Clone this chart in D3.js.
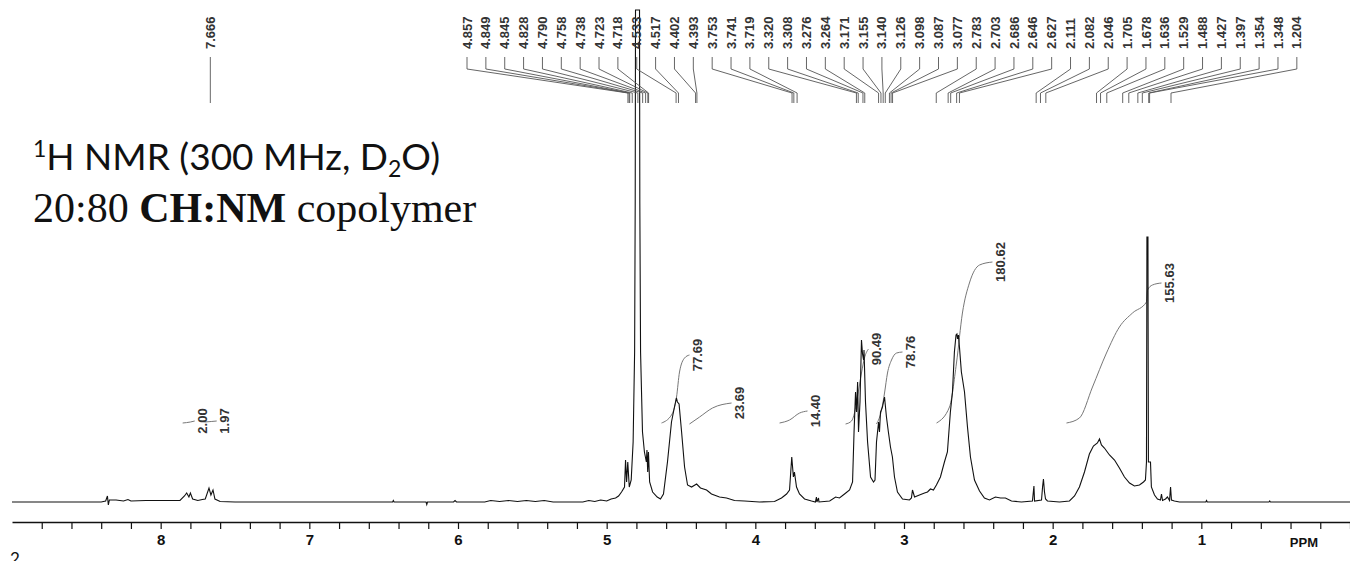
<!DOCTYPE html>
<html>
<head>
<meta charset="utf-8">
<script src="https://cdn.jsdelivr.net/npm/d3@7"></script>
<style>
  body { margin: 0; background: #fff; }
  svg { display: block; }
  .spectrum { fill: none; stroke: #111; stroke-width: 1.1; }
  .integral { fill: none; stroke: #777; stroke-width: 1; }
  .leader { fill: none; stroke: #555; stroke-width: 0.9; }
  .plabel { font-family: "Liberation Sans", Arial, sans-serif; font-size: 13px; font-weight: bold; fill: #333; }
  .xAxis text { font-family: "Liberation Sans", Arial, sans-serif; font-size: 15px; font-weight: bold; }
</style>
</head>
<body>
<svg id="nmr"></svg>
<script>
// page size
var width = 1350;
var height = 561;

// spectrum points: [ppm, intensity]
var spectrum = [
  [9.00,0],[8.40,0],[8.37,0.2],[8.358,1.2],[8.352,-0.6],[8.345,0.4],[8.30,0.4],[8.25,0.2],[8.22,0.5],[8.20,0.2],
  [8.10,0.3],[8.00,0.3],[7.90,0.3],[7.87,0.3],[7.84,1.2],[7.825,1.8],[7.81,1.0],[7.80,1.8],[7.785,0.6],[7.75,0.3],
  [7.72,0.5],[7.70,0.6],[7.675,2.8],[7.662,1.4],[7.648,2.4],[7.635,0.6],[7.60,0.1],[7.50,0],[6.44,0],[6.435,0.3],
  [6.43,0],[6.215,0],[6.21,-0.5],[6.205,0],[6.03,0],[6.02,0.3],[6.01,0],[5.82,0],[5.78,0.3],[5.72,0.1],[5.66,0.3],
  [5.60,0.1],[5.54,0.3],[5.48,0.1],[5.42,0.3],[5.36,0],[5.16,0],[5.12,0.3],[5.08,0.1],[5.04,0.4],[5.00,0.2],
  [4.97,0.6],[4.94,0.8],[4.92,1.2],[4.90,2.0],[4.880,3.0],[4.873,8.4],[4.866,4],[4.858,8],[4.848,3],[4.835,4.4],
  [4.822,12],[4.812,30],[4.808,60],[4.806,98.4],[4.779,98.4],[4.777,60],[4.772,30],[4.759,14],[4.746,10],[4.733,8],
  [4.729,10.4],[4.724,6],[4.719,10],[4.711,4],[4.691,2],[4.660,1],[4.638,0.6],[4.618,1.6],[4.591,8],[4.564,16],
  [4.544,19],[4.531,20.8],[4.524,20],[4.513,19.6],[4.496,14],[4.476,7],[4.456,3.4],[4.429,3],[4.395,3.6],[4.369,2.8],
  [4.328,2.4],[4.295,1.6],[4.241,1.0],[4.194,0.8],[4.14,0.3],[4.073,0.2],[3.972,0],[3.871,0.1],[3.824,0.8],[3.79,1.6],
  [3.77,2.4],[3.755,9],[3.744,5],[3.737,6],[3.723,3],[3.703,1.6],[3.669,0.6],[3.622,0.2],[3.596,0],[3.589,1.0],
  [3.586,0],[3.575,0.8],[3.572,0],[3.50,0.2],[3.46,1.0],[3.434,0.8],[3.40,1.6],[3.366,2.4],[3.346,4],[3.336,14],
  [3.326,22],[3.319,18],[3.312,24],[3.306,14],[3.296,20],[3.286,32.4],[3.279,29.6],[3.272,28.4],[3.269,30.4],[3.259,20],
  [3.245,12],[3.225,5],[3.205,4],[3.195,4.4],[3.185,12],[3.171,16],[3.165,14],[3.158,18],[3.145,19],[3.131,21],
  [3.118,17],[3.105,14],[3.091,11],[3.078,9],[3.064,5],[3.044,2],[3.01,0.6],[2.963,0.4],[2.95,0.8],[2.943,2.4],
  [2.929,1.0],[2.896,1.4],[2.862,1.8],[2.842,2.0],[2.822,2.6],[2.802,2.4],[2.782,3.4],[2.755,5],[2.728,8],[2.708,10],
  [2.688,18],[2.674,22],[2.661,30],[2.65,33.4],[2.644,33.6],[2.64,32.6],[2.634,33.4],[2.627,31],[2.614,26],[2.593,22],
  [2.573,15],[2.553,9],[2.526,4.4],[2.492,2.2],[2.459,0.8],[2.425,0.4],[2.385,1.0],[2.351,0.8],[2.318,0.8],[2.277,0.2],
  [2.21,0],[2.136,0.2],[2.126,3.2],[2.122,0.2],[2.075,0.4],[2.068,3],[2.062,4.6],[2.055,2],[2.048,0.6],[2.035,0.2],
  [1.954,0],[1.887,0.2],[1.853,1.2],[1.82,3],[1.786,6],[1.753,9.6],[1.726,11.2],[1.699,11.8],[1.685,12.6],[1.672,11.4],
  [1.652,10.8],[1.618,9.4],[1.584,8.4],[1.551,6.8],[1.517,5],[1.483,3.8],[1.45,3.2],[1.416,3.4],[1.389,4],[1.376,4.4],
  [1.369,8],[1.367,36],[1.366,53],[1.359,53],[1.358,36],[1.356,8],[1.342,8],[1.336,3],[1.315,1.4],[1.295,0.6],[1.275,0.4],[1.268,1.6],
  [1.261,0.3],[1.241,0.6],[1.228,1.0],[1.214,0.3],[1.207,3],[1.201,0.4],[1.181,0.2],[1.147,0],[0.97,0],[0.965,0.3],
  [0.96,0],[0.545,0],[0.54,0.2],[0.535,0],[0.0,0]
];

// peak picks
var isolatedPeaks = [7.666];
var groupPeaks = [4.857, 4.849, 4.845, 4.828, 4.790, 4.758, 4.738, 4.723, 4.718, 4.533, 4.517, 4.402, 4.393,
  3.753, 3.741, 3.719, 3.320, 3.308, 3.276, 3.264, 3.171, 3.155, 3.140, 3.126, 3.098, 3.087, 3.077,
  2.783, 2.703, 2.686, 2.646, 2.627, 2.111, 2.082, 2.046,
  1.705, 1.678, 1.636, 1.529, 1.488, 1.427, 1.397, 1.354, 1.348, 1.204];

// integrals: label + curve [ppm, level]
var integralLabels = ["2.00", "1.97", "77.69", "23.69", "14.40", "90.49", "78.76", "180.62", "155.63"];
var integralCurves = [
  [[7.852,15.8],[7.80,16.0],[7.771,16.2]],
  [[7.704,16.0],[7.66,16.1],[7.623,16.2]],
  [[4.631,15.8],[4.564,17.4],[4.530,21],[4.510,26],[4.476,28.8],[4.443,29.4]],
  [[4.443,15.6],[4.375,17],[4.288,18.8],[4.160,19.8]],
  [[3.837,15.8],[3.770,16.4],[3.702,17.8],[3.649,18.2]],
  [[3.393,15.6],[3.353,16.2],[3.333,17.8],[3.313,21],[3.286,25.8],[3.266,28.8],[3.239,30.6]],
  [[3.185,15.6],[3.151,18.4],[3.131,21.8],[3.111,25.8],[3.084,28.4],[3.050,29.8],[3.010,30]],
  [[2.781,15.8],[2.694,19],[2.647,27.8],[2.607,37.8],[2.560,43.8],[2.492,47.4],[2.405,48]],
  [[1.907,15.8],[1.820,16.8],[1.732,23],[1.638,29.8],[1.551,35],[1.463,37.8],[1.369,40],[1.362,42.4],[1.329,43.4],[1.268,43.8]]
];

// axis
var majorTicks = [8, 7, 6, 5, 4, 3, 2, 1];
var minorStep = 0.2;

var svg = d3.select("svg#nmr")
  .attr("width", width)
  .attr("height", height);

var xScale = d3.scaleLinear()
  .domain([9.0, 0.0])
  .range([12, 1350]);

var yScale = d3.scaleLinear()
  .domain([0, 100])
  .range([502, 2]);

var line = d3.line()
  .x(function(d) { return xScale(d[0]); })
  .y(function(d) { return yScale(d[1]); });

var curve = d3.line()
  .curve(d3.curveMonotoneX)
  .x(function(d) { return xScale(d[0]); })
  .y(function(d) { return yScale(d[1]); });

// x axis, ticks every 0.2 ppm, labels on integers
var tickVals = d3.range(0, 45).map(function(i) { return +(i * minorStep).toFixed(1); });
var xAxis = d3.axisBottom(xScale)
  .tickValues(tickVals)
  .tickSize(7)
  .tickSizeOuter(0)
  .tickPadding(5)
  .tickFormat(function(d) { return majorTicks.indexOf(d) >= 0 ? d : ""; });

var gx = svg.append("g")
  .attr("class", "xAxis")
  .attr("transform", "translate(0,522)")
  .call(xAxis);
gx.select(".domain").attr("stroke", "#111").attr("stroke-width", 1.3);
gx.selectAll(".tick line").attr("stroke", "#111").attr("stroke-width", 1.2);
gx.selectAll(".tick text").attr("fill", "#111");

gx.append("text")
  .attr("x", xScale(0.31))
  .attr("y", 25)
  .attr("fill", "#111")
  .style("text-anchor", "middle")
  .style("font-size", "13px")
  .text("PPM");

// integrals
svg.selectAll("path.integral")
  .data(integralCurves)
  .enter()
  .append("path")
  .attr("class", "integral")
  .attr("d", function(d) { return curve(d.slice().reverse()); });

svg.selectAll("text.ilabel")
  .data(integralCurves)
  .enter()
  .append("text")
  .attr("class", "plabel ilabel")
  .attr("transform", function(d) {
    var p = d[d.length - 1];
    return "translate(" + (xScale(p[0]) + 8) + "," + yScale(p[1]) + ") rotate(-90)";
  })
  .attr("dy", "0.35em")
  .style("text-anchor", "middle")
  .text(function(d, i) { return integralLabels[i]; });

// spectrum
svg.append("path")
  .attr("class", "spectrum")
  .attr("d", line(spectrum));

// peak labels with leader lines
var colStart = 467, colStep = 18.86;
var labelBottom = 49, stubEnd = 69, bendY = 93, leaderEnd = 103;

var picks = isolatedPeaks.map(function(p) { return {ppm: p, col: xScale(p)}; })
  .concat(groupPeaks.map(function(p, i) { return {ppm: p, col: colStart + i * colStep}; }));

svg.selectAll("path.leader")
  .data(picks)
  .enter()
  .append("path")
  .attr("class", "leader")
  .attr("d", function(d) {
    var px = xScale(d.ppm);
    return "M" + d.col + "," + (labelBottom + 8) + "V" + stubEnd +
      "L" + px + "," + bendY + "V" + leaderEnd;
  });

svg.selectAll("text.pick")
  .data(picks)
  .enter()
  .append("text")
  .attr("class", "plabel pick")
  .attr("transform", function(d) { return "translate(" + d.col + "," + labelBottom + ") rotate(-90)"; })
  .attr("dy", "0.35em")
  .style("text-anchor", "start")
  .text(function(d) { return d.ppm.toFixed(3); });

// title block
var t1 = svg.append("text")
  .attr("x", 33)
  .attr("y", 170)
  .style("font-family", "Lato, 'Open Sans', sans-serif")
  .style("font-size", "37px")
  .attr("fill", "#111");
t1.append("tspan").style("font-size", "23px").attr("dy", "-13").text("1");
t1.append("tspan").attr("dy", "13").text("H NMR (300 MHz, D");
t1.append("tspan").style("font-size", "23px").attr("dy", "7").text("2");
t1.append("tspan").attr("dy", "-7").text("O)");

var t2 = svg.append("text")
  .attr("x", 33)
  .attr("y", 222)
  .style("font-family", "'Liberation Serif', 'Times New Roman', serif")
  .style("font-size", "42px")
  .attr("fill", "#111");
t2.append("tspan").text("20:80 ");
t2.append("tspan").style("font-weight", "bold").text("CH:NM");
t2.append("tspan").text(" copolymer");

// cut-off superscript at the bottom-left corner
svg.append("text")
  .attr("x", 10)
  .attr("y", 565)
  .style("font-family", "Lato, sans-serif")
  .style("font-size", "17px")
  .attr("fill", "#111")
  .text("2");
</script>
</body>
</html>
